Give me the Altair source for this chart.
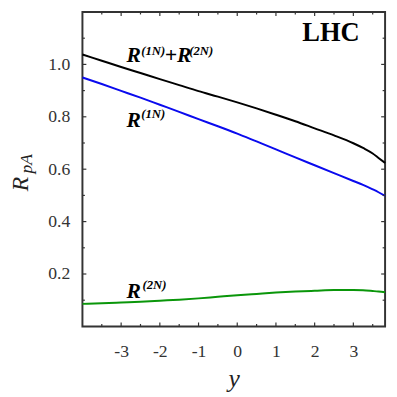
import altair as alt
import pandas as pd

# ---- data ----
rapidity = [-4.0, -3.5, -3.0, -2.5, -2.0, -1.5, -1.0, -0.5, 0.0, 0.5, 1.0, 1.5, 2.0, 2.5, 3.0, 3.25, 3.5, 3.65, 3.82]
r_total = [1.038, 1.014, 0.990, 0.967, 0.944, 0.921, 0.898, 0.877, 0.855, 0.832, 0.808, 0.783, 0.756, 0.729, 0.699, 0.681, 0.660, 0.643, 0.624]
r_1n = [0.950, 0.925, 0.899, 0.873, 0.846, 0.819, 0.791, 0.764, 0.736, 0.706, 0.676, 0.645, 0.615, 0.585, 0.555, 0.540, 0.523, 0.512, 0.498]
r_2n = [0.086, 0.088, 0.091, 0.094, 0.098, 0.102, 0.107, 0.113, 0.119, 0.124, 0.129, 0.133, 0.136, 0.139, 0.139, 0.138, 0.135, 0.133, 0.130]

x_major = [-3, -2, -1, 0, 1, 2, 3]
x_minor = [-3.5, -2.5, -1.5, -0.5, 0.5, 1.5, 2.5, 3.5]
y_major = [0.2, 0.4, 0.6, 0.8, 1.0]
y_minor = [0.1, 0.3, 0.5, 0.7, 0.9, 1.1]

# annotations (data coordinates)
main_text = ["R", "+R", "R", "R"]
main_x = [-2.861, -1.874, -2.861, -2.861]
main_y = [1.008, 1.008, 0.762, 0.110]
sup_text = ["(1N)", "(2N)", "(1N)", "(2N)"]
sup_x = [-2.48, -1.24, -2.48, -2.45]
sup_y = [1.036, 1.036, 0.795, 0.144]
tag_text = ["LHC"]
tag_x = [2.42]
tag_y = [1.088]

W, H = 309, 321
XDOM = [-4.0, 3.82]
YDOM = [0.0, 1.2]
FRAME = "#333333"
SERIF = "Liberation Serif"

rows = []
for name, vals in [("total", r_total), ("1N", r_1n), ("2N", r_2n)]:
    for xv, yv in zip(rapidity, vals):
        rows.append({"y": xv, "R": yv, "s": name})
df = pd.DataFrame(rows)

xs = alt.Scale(domain=XDOM, nice=False, zero=False)
ys = alt.Scale(domain=YDOM, nice=False, zero=False)

lines = alt.Chart(df).mark_line(strokeWidth=2, interpolate="monotone").encode(
    x=alt.X("y:Q", scale=xs,
            axis=alt.Axis(values=x_major, format="d", labelExpr="replace(datum.label, '\u2212', '-')",
                          ticks=False, tickSize=0, domain=False,
                          grid=False, labelPadding=17, labelFont=SERIF, labelFontSize=18,
                          labelColor="#333", title="y", titleFont=SERIF, titleFontStyle="italic",
                          titleFontWeight="normal", titleFontSize=26, titleColor="#222",
                          titlePadding=5)),
    y=alt.Y("R:Q", scale=ys,
            axis=alt.Axis(values=y_major, format=".1f", ticks=False, tickSize=0, domain=False,
                          grid=False, labelPadding=13, labelFont=SERIF, labelFontSize=18,
                          labelColor="#333", title=None)),
    color=alt.Color("s:N", scale=alt.Scale(domain=["total", "1N", "2N"],
                                           range=["#000000", "#0a0aee", "#0a960a"]), legend=None),
)

def tick_layer(vals, orient, length):
    d = pd.DataFrame({"v": vals})
    base = alt.Chart(d).mark_rule(color=FRAME, strokeWidth=1.2)
    if orient == "bottom":
        return base.encode(x=alt.X("v:Q", scale=xs), y=alt.value(H), y2=alt.value(H - length))
    if orient == "top":
        return base.encode(x=alt.X("v:Q", scale=xs), y=alt.value(0), y2=alt.value(length))
    if orient == "left":
        return base.encode(y=alt.Y("v:Q", scale=ys), x=alt.value(0), x2=alt.value(length))
    return base.encode(y=alt.Y("v:Q", scale=ys), x=alt.value(W), x2=alt.value(W - length))

ticks = [
    tick_layer(x_major, "bottom", 4), tick_layer(x_minor, "bottom", 2.5),
    tick_layer(x_major, "top", 4), tick_layer(x_minor, "top", 2.5),
    tick_layer(y_major, "left", 4), tick_layer(y_minor, "left", 2.5),
    tick_layer(y_major, "right", 4), tick_layer(y_minor, "right", 2.5),
]

main_df = pd.DataFrame({"x": main_x, "y": main_y, "t": main_text})
sup_df = pd.DataFrame({"x": sup_x, "y": sup_y, "t": sup_text})
tag_df = pd.DataFrame({"x": tag_x, "y": tag_y, "t": tag_text})

main_lbl = alt.Chart(main_df).mark_text(font=SERIF, fontSize=22, fontStyle="italic", fontWeight="bold",
                                        align="left", baseline="alphabetic", color="#000").encode(
    x=alt.X("x:Q", scale=xs), y=alt.Y("y:Q", scale=ys), text="t:N")
sup_lbl = alt.Chart(sup_df).mark_text(font=SERIF, fontSize=13, fontStyle="italic", fontWeight="bold",
                                      align="left", baseline="alphabetic", color="#000").encode(
    x=alt.X("x:Q", scale=xs), y=alt.Y("y:Q", scale=ys), text="t:N")
tag_lbl = alt.Chart(tag_df).mark_text(font=SERIF, fontSize=27, fontWeight="bold",
                                      align="center", baseline="alphabetic", color="#000").encode(
    x=alt.X("x:Q", scale=xs), y=alt.Y("y:Q", scale=ys), text="t:N")

# y-axis title R_pA (rotated, with subscript)
ytitle_df = pd.DataFrame({"t": ["R"]})
ysub_df = pd.DataFrame({"t": ["pA"]})
ytitle = alt.Chart(ytitle_df).mark_text(font=SERIF, fontSize=24, fontStyle="italic", angle=270,
                                        align="left", baseline="alphabetic", color="#222").encode(
    x=alt.value(-56), y=alt.value(183), text="t:N")
ysub = alt.Chart(ysub_df).mark_text(font=SERIF, fontSize=18, fontStyle="italic", angle=270,
                                    align="left", baseline="alphabetic", color="#222").encode(
    x=alt.value(-52), y=alt.value(165), text="t:N")

chart = alt.layer(lines, *ticks, main_lbl, sup_lbl, tag_lbl, ytitle, ysub).properties(
    width=W, height=H,
    autosize=alt.AutoSizeParams(type="none"),
    padding={"left": 76, "top": 0, "right": 4, "bottom": 68},
).configure_view(stroke=FRAME, strokeWidth=2)

chart.save("out.html", embed_options={"renderer": "svg", "actions": False})
